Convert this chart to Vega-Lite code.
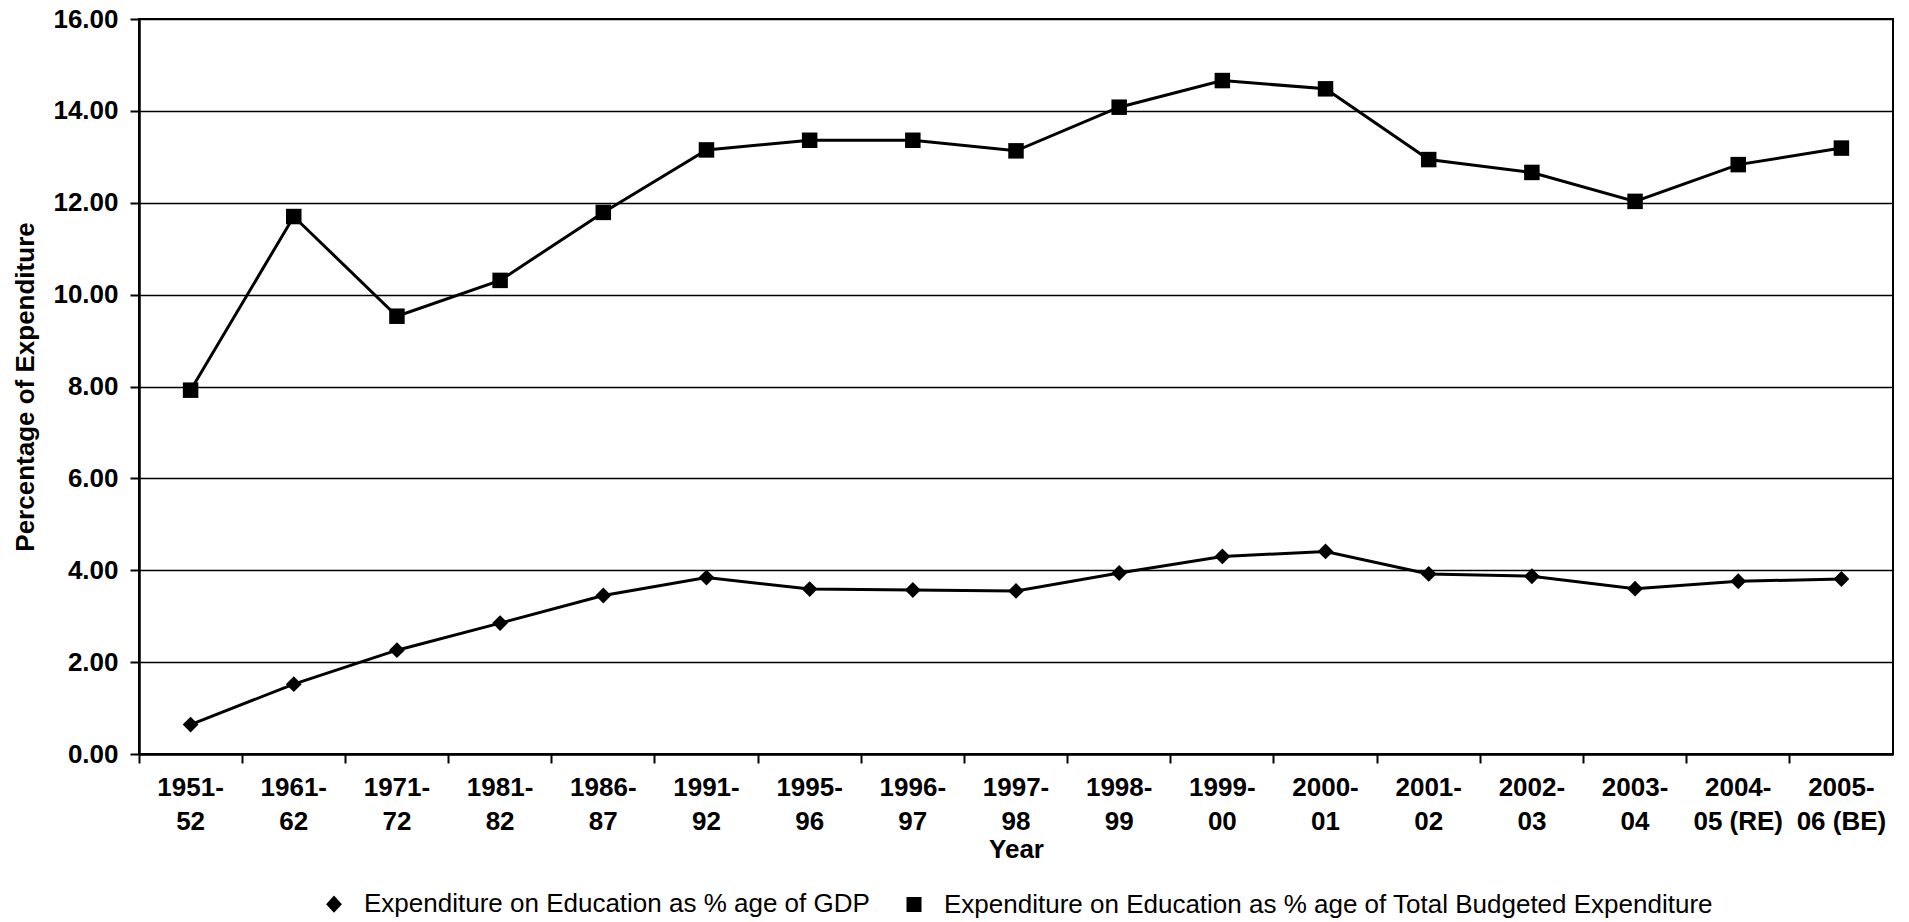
{
  "$schema": "https://vega.github.io/schema/vega-lite/v6.json",
  "width": 1754,
  "height": 735,
  "autosize": {"type": "none"},
  "padding": {"left": 139, "top": 19, "right": 16, "bottom": 168},
  "background": "white",
  "config": {
    "font": "Liberation Sans",
    "view": {"stroke": "black", "strokeWidth": 2}
  },
  "data": {
    "values": [
      {"year": "1951-52", "series": "Expenditure on Education as % age of GDP", "pct": 0.64},
      {"year": "1961-62", "series": "Expenditure on Education as % age of GDP", "pct": 1.52},
      {"year": "1971-72", "series": "Expenditure on Education as % age of GDP", "pct": 2.26},
      {"year": "1981-82", "series": "Expenditure on Education as % age of GDP", "pct": 2.85},
      {"year": "1986-87", "series": "Expenditure on Education as % age of GDP", "pct": 3.45},
      {"year": "1991-92", "series": "Expenditure on Education as % age of GDP", "pct": 3.84},
      {"year": "1995-96", "series": "Expenditure on Education as % age of GDP", "pct": 3.59},
      {"year": "1996-97", "series": "Expenditure on Education as % age of GDP", "pct": 3.57},
      {"year": "1997-98", "series": "Expenditure on Education as % age of GDP", "pct": 3.55},
      {"year": "1998-99", "series": "Expenditure on Education as % age of GDP", "pct": 3.94},
      {"year": "1999-00", "series": "Expenditure on Education as % age of GDP", "pct": 4.30},
      {"year": "2000-01", "series": "Expenditure on Education as % age of GDP", "pct": 4.41},
      {"year": "2001-02", "series": "Expenditure on Education as % age of GDP", "pct": 3.92},
      {"year": "2002-03", "series": "Expenditure on Education as % age of GDP", "pct": 3.87},
      {"year": "2003-04", "series": "Expenditure on Education as % age of GDP", "pct": 3.60},
      {"year": "2004-05 (RE)", "series": "Expenditure on Education as % age of GDP", "pct": 3.76},
      {"year": "2005-06 (BE)", "series": "Expenditure on Education as % age of GDP", "pct": 3.81},
      {"year": "1951-52", "series": "Expenditure on Education as % age of Total Budgeted Expenditure", "pct": 7.92},
      {"year": "1961-62", "series": "Expenditure on Education as % age of Total Budgeted Expenditure", "pct": 11.70},
      {"year": "1971-72", "series": "Expenditure on Education as % age of Total Budgeted Expenditure", "pct": 9.53},
      {"year": "1981-82", "series": "Expenditure on Education as % age of Total Budgeted Expenditure", "pct": 10.31},
      {"year": "1986-87", "series": "Expenditure on Education as % age of Total Budgeted Expenditure", "pct": 11.79},
      {"year": "1991-92", "series": "Expenditure on Education as % age of Total Budgeted Expenditure", "pct": 13.15},
      {"year": "1995-96", "series": "Expenditure on Education as % age of Total Budgeted Expenditure", "pct": 13.36},
      {"year": "1996-97", "series": "Expenditure on Education as % age of Total Budgeted Expenditure", "pct": 13.36},
      {"year": "1997-98", "series": "Expenditure on Education as % age of Total Budgeted Expenditure", "pct": 13.13},
      {"year": "1998-99", "series": "Expenditure on Education as % age of Total Budgeted Expenditure", "pct": 14.08},
      {"year": "1999-00", "series": "Expenditure on Education as % age of Total Budgeted Expenditure", "pct": 14.66},
      {"year": "2000-01", "series": "Expenditure on Education as % age of Total Budgeted Expenditure", "pct": 14.48},
      {"year": "2001-02", "series": "Expenditure on Education as % age of Total Budgeted Expenditure", "pct": 12.94},
      {"year": "2002-03", "series": "Expenditure on Education as % age of Total Budgeted Expenditure", "pct": 12.66},
      {"year": "2003-04", "series": "Expenditure on Education as % age of Total Budgeted Expenditure", "pct": 12.03},
      {"year": "2004-05 (RE)", "series": "Expenditure on Education as % age of Total Budgeted Expenditure", "pct": 12.83},
      {"year": "2005-06 (BE)", "series": "Expenditure on Education as % age of Total Budgeted Expenditure", "pct": 13.19}
    ]
  },
  "encoding": {
    "x": {
      "field": "year",
      "type": "nominal",
      "sort": null,
      "scale": {"type": "band", "paddingInner": 0, "paddingOuter": 0},
      "axis": {
        "title": "Year",
        "labelAngle": 0,
        "bandPosition": 0,
        "tickSize": 9,
        "tickColor": "black",
        "tickWidth": 2,
        "domainColor": "black",
        "domainWidth": 2.5,
        "grid": false,
        "labelFont": "Liberation Sans",
        "labelFontSize": 26,
        "labelFontWeight": "bold",
        "labelColor": "black",
        "labelLineHeight": 34,
        "labelPadding": 11,
        "labelExpr": "[slice(datum.value, 0, 5), slice(datum.value, 5)]",
        "titleFont": "Liberation Sans",
        "titleFontSize": 26,
        "titleFontWeight": "bold",
        "titleColor": "black",
        "titlePadding": 2
      }
    },
    "y": {
      "field": "pct",
      "type": "quantitative",
      "scale": {"domain": [0, 16]},
      "axis": {
        "title": "Percentage of Expenditure",
        "values": [0, 2, 4, 6, 8, 10, 12, 14, 16],
        "format": ".2f",
        "grid": true,
        "gridColor": "black",
        "gridWidth": 1.5,
        "gridOpacity": 1,
        "tickSize": 9,
        "tickColor": "black",
        "tickWidth": 2,
        "domainColor": "black",
        "domainWidth": 2.5,
        "labelFont": "Liberation Sans",
        "labelFontSize": 26,
        "labelFontWeight": "bold",
        "labelColor": "black",
        "labelPadding": 12,
        "titleFont": "Liberation Sans",
        "titleFontSize": 26,
        "titleFontWeight": "bold",
        "titleColor": "black",
        "titlePadding": 14
      }
    }
  },
  "layer": [
    {
      "mark": {"type": "line", "color": "black", "strokeWidth": 3},
      "encoding": {"detail": {"field": "series", "type": "nominal"}}
    },
    {
      "mark": {"type": "point", "filled": true, "color": "black", "stroke": "black", "strokeWidth": 2.5, "opacity": 0, "size": 250},
      "encoding": {
        "shape": {
          "field": "series",
          "type": "nominal",
          "scale": {
            "domain": ["Expenditure on Education as % age of GDP", "Expenditure on Education as % age of Total Budgeted Expenditure"],
            "range": ["M-3.5,0H3.5M0,-1.1L1,0L0,1.1L-1,0Z", "M-3.5,0H3.5M-0.95,-0.95H0.95V0.95H-0.95Z"]
          },
          "legend": {
            "orient": "none",
            "legendX": 182,
            "legendY": 872,
            "direction": "horizontal",
            "title": null,
            "padding": 0,
            "labelFont": "Liberation Sans",
            "labelFontSize": 26,
            "labelColor": "black",
            "labelLimit": 0,
            "labelOffset": 17,
            "columnPadding": 11,
            "symbolSize": 250,
            "symbolStrokeColor": "black",
            "symbolFillColor": "black",
            "symbolStrokeWidth": 2.5,
            "symbolOpacity": 1
          }
        }
      }
    },
    {
      "transform": [{"filter": "datum.series === 'Expenditure on Education as % age of GDP'"}],
      "mark": {"type": "point", "shape": "diamond", "filled": true, "color": "black", "opacity": 1, "size": 250}
    },
    {
      "transform": [{"filter": "datum.series === 'Expenditure on Education as % age of Total Budgeted Expenditure'"}],
      "mark": {"type": "point", "shape": "square", "filled": true, "color": "black", "opacity": 1, "size": 240}
    }
  ]
}
